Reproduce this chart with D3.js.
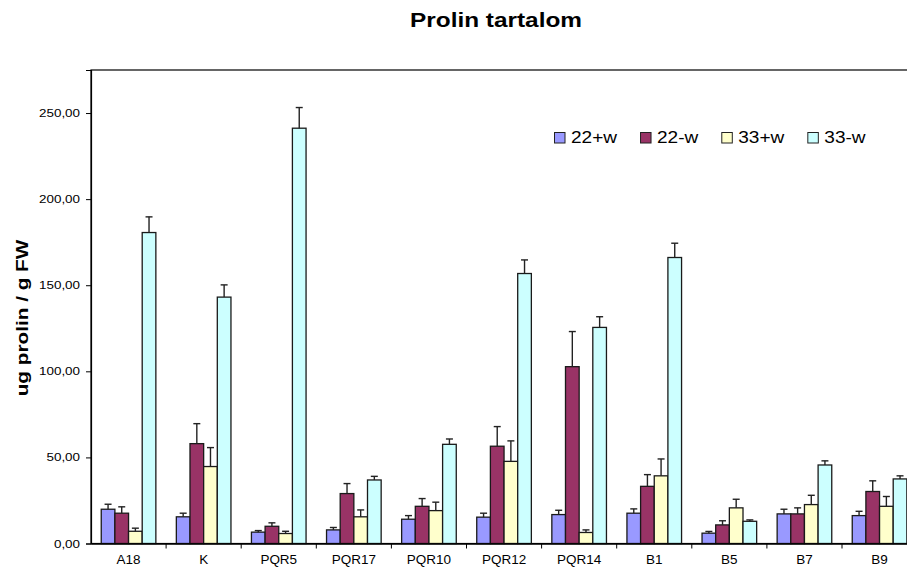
<!DOCTYPE html>
<html><head><meta charset="utf-8">
<script src="https://cdn.jsdelivr.net/npm/d3@7"></script>
<style>
body{margin:0;background:#fff;}
svg{display:block;font-family:"Liberation Sans",Arial,sans-serif;}
</style></head>
<body>
<svg id="c" width="907" height="571"></svg>
<script>
const categories = ["A18","K","PQR5","PQR17","PQR10","PQR12","PQR14","B1","B5","B7","B9"];
const seriesNames = ["22+w","22-w","33+w","33-w"];
const seriesColors = ["#9999FF","#993366","#FFFFCC","#CCFFFF"];
const v22p = [19.9,15.5,6.6,7.9,14.1,15.3,16.8,17.6,6.0,17.2,16.2];
const e22p = [2.9,2.1,0.9,1.4,2.1,2.3,2.5,2.5,1.0,2.7,2.5];
const v22m = [17.6,58.0,10.0,29.0,21.6,56.5,102.7,33.2,10.8,17.2,30.2];
const e22m = [3.7,11.6,2.0,5.8,4.5,11.4,20.4,6.8,2.4,3.5,6.2];
const v33p = [7.1,44.7,5.8,15.5,19.1,47.7,6.4,39.3,20.7,22.6,21.6];
const e33p = [1.8,11.0,1.3,4.0,4.9,11.9,1.5,9.8,5.0,5.4,5.7];
const v33m = [180.6,143.1,241.2,36.9,57.6,156.8,125.5,166.1,12.9,45.6,37.5];
const e33m = [9.1,7.1,12.0,2.1,3.1,7.9,6.2,8.3,0.8,2.4,1.8];
const yTicks = [0,50,100,150,200,250];
const title = "Prolin tartalom";
const yTitle = "ug prolin / g FW";

const values = [v22p,v22m,v33p,v33m];
const errors = [e22p,e22m,e33p,e33m];
const fmt = d => d3.format(".2f")(d).replace(".", ",");

const svg = d3.select("#c");
const mLeft = 91, mTop = 70, mBottom = 543.5, groupW = 75.1;
const mRight = mLeft + groupW * categories.length;

const x = d3.scaleBand().domain(categories).range([mLeft, mRight]).padding(0);
const barW = x.bandwidth() / 5.5;
const xs = d3.scaleBand().domain(seriesNames)
  .range([barW * 0.75, barW * 4.75]).padding(0);
const y = d3.scaleLinear().domain([0, 275]).range([mBottom, mTop]);

// horizontal glyph stretch about the text's anchor x
function stretch(sel, sx){
  sel.each(function(){
    const t = d3.select(this);
    const ax = +t.attr("x") || 0;
    t.attr("transform", `translate(${ax},0) scale(${sx},1) translate(${-ax},0)`);
  });
}

// plot frame
svg.append("rect").attr("x", mLeft).attr("y", mTop)
  .attr("width", mRight - mLeft).attr("height", mBottom - mTop)
  .attr("fill", "none").attr("stroke", "#000").attr("stroke-width", 1.2);

// bars
const rows = [];
seriesNames.forEach((s, si) => categories.forEach((c, ci) => rows.push({s, si, c, v: values[si][ci], e: errors[si][ci]})));

const g = svg.append("g");
g.selectAll("rect.bar").data(rows).join("rect")
  .attr("class", "bar")
  .attr("x", d => x(d.c) + xs(d.s))
  .attr("y", d => y(d.v))
  .attr("width", xs.bandwidth())
  .attr("height", d => y(0) - y(d.v))
  .attr("fill", d => seriesColors[d.si])
  .attr("stroke", "#1a1a1a").attr("stroke-width", 1.3);

// error bars (upper only)
const eg = svg.append("g").attr("stroke", "#222").attr("stroke-width", 1.4);
eg.selectAll("line.ev").data(rows).join("line").attr("class", "ev")
  .attr("x1", d => x(d.c) + xs(d.s) + xs.bandwidth() / 2)
  .attr("x2", d => x(d.c) + xs(d.s) + xs.bandwidth() / 2)
  .attr("y1", d => y(d.v)).attr("y2", d => y(d.v + d.e));
eg.selectAll("line.ec").data(rows).join("line").attr("class", "ec")
  .attr("x1", d => x(d.c) + xs(d.s) + xs.bandwidth() / 2 - 3.5)
  .attr("x2", d => x(d.c) + xs(d.s) + xs.bandwidth() / 2 + 3.5)
  .attr("y1", d => y(d.v + d.e)).attr("y2", d => y(d.v + d.e));

// y axis
const ya = svg.append("g").attr("transform", `translate(${mLeft},0)`)
  .call(d3.axisLeft(y).tickValues(yTicks).tickFormat(fmt).tickSize(5).tickPadding(6));
ya.select(".domain").attr("stroke", "#000").attr("stroke-width", 1.2);
ya.selectAll(".tick line").attr("stroke", "#000");
ya.selectAll(".tick text").attr("font-size", 11).attr("fill", "#000")
  .attr("font-family", "Liberation Sans, Arial, sans-serif").call(stretch, 1.22);

// x axis
const xa = svg.append("g").attr("transform", `translate(0,${mBottom})`)
  .call(d3.axisBottom(x).tickSize(0).tickPadding(12));
xa.select(".domain").attr("stroke", "#000").attr("stroke-width", 1.6);
xa.selectAll(".tick text").attr("font-size", 12.5).attr("fill", "#000")
  .attr("font-family", "Liberation Sans, Arial, sans-serif").call(stretch, 1.08);
// separators between groups
svg.append("g").selectAll("line").data(categories.slice(1)).join("line")
  .attr("x1", d => x(d)).attr("x2", d => x(d))
  .attr("y1", mBottom).attr("y2", mBottom + 5)
  .attr("stroke", "#000").attr("stroke-width", 1);

// title
svg.append("text").attr("x", 496).attr("y", 27).attr("text-anchor", "middle")
  .attr("font-size", 19.5).attr("font-weight", "bold").text(title).call(stretch, 1.25);

// y title
svg.append("text").attr("transform", "translate(28,318) rotate(-90) scale(1.22,1)")
  .attr("text-anchor", "middle").attr("font-size", 17).attr("font-weight", "bold")
  .text(yTitle);

// legend
const lg = svg.append("g");
let lx = 554.5;
seriesNames.forEach((s, i) => {
  lg.append("rect").attr("x", lx).attr("y", 132.5).attr("width", 10.5).attr("height", 10.5)
    .attr("fill", seriesColors[i]).attr("stroke", "#222").attr("stroke-width", 1);
  const t = lg.append("text").attr("x", lx + 16.5).attr("y", 143.5)
    .attr("font-size", 16).text(s).call(stretch, 1.19);
  lx = lx + 16.5 + t.node().getComputedTextLength() * 1.19 + 23.5;
});
</script>
</body></html>
